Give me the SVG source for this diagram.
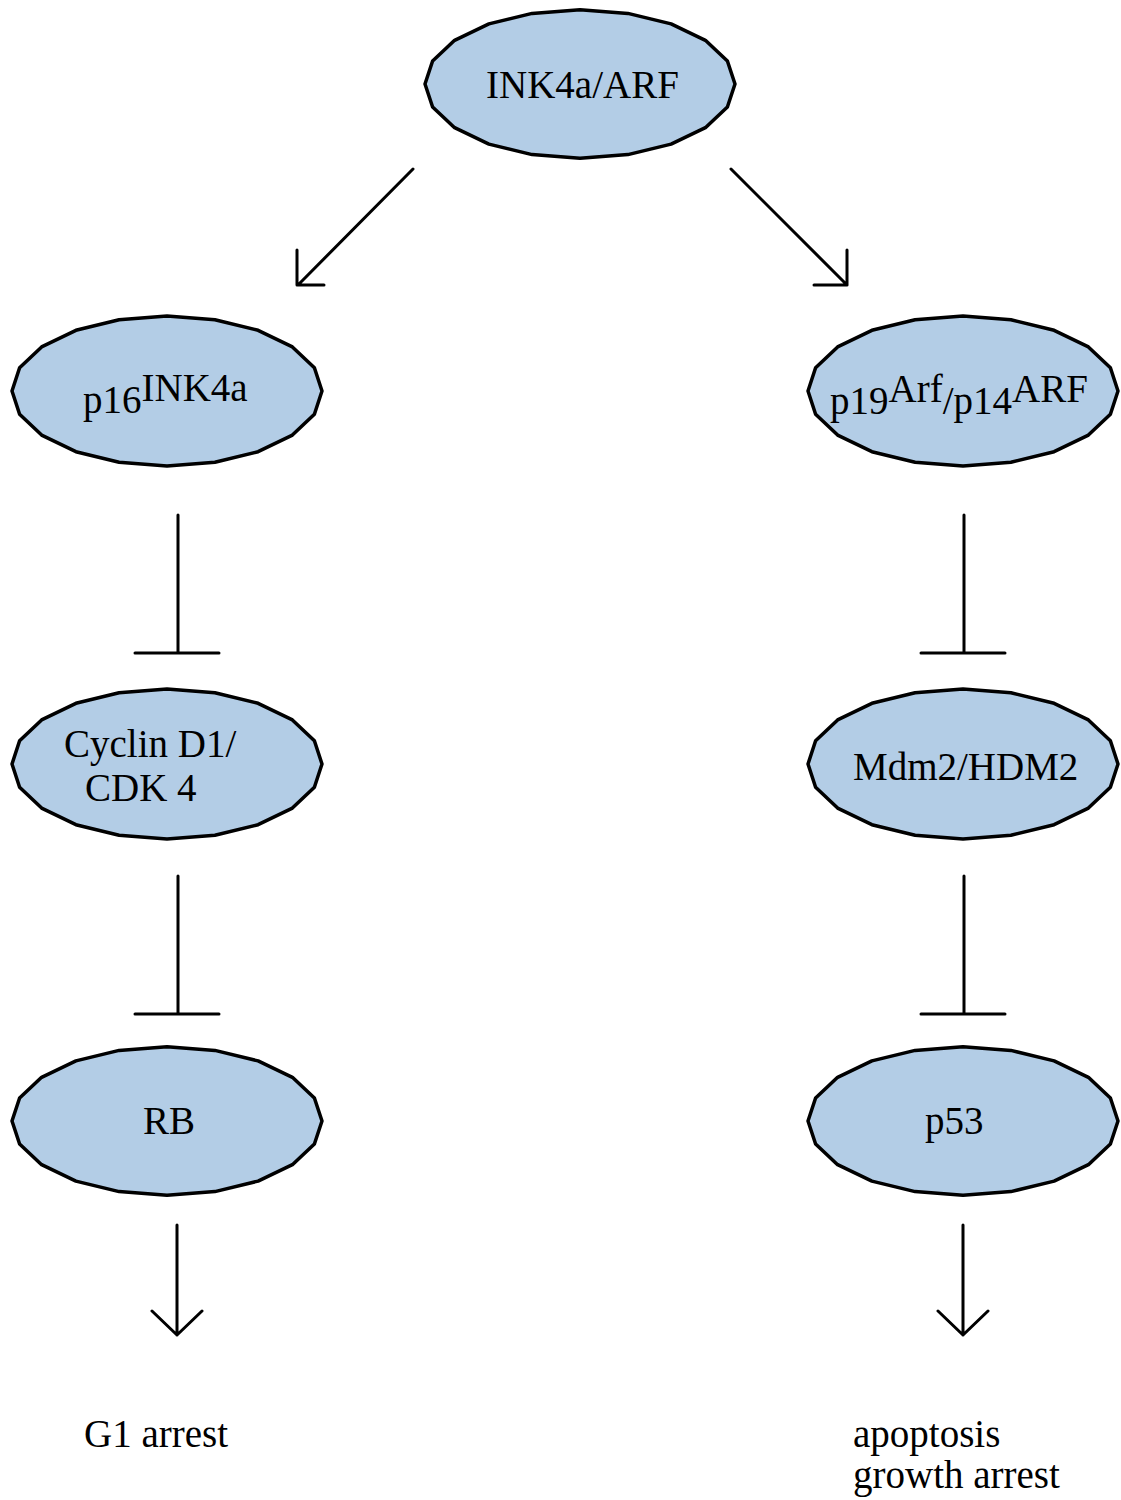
<svg xmlns="http://www.w3.org/2000/svg" xmlns:xlink="http://www.w3.org/1999/xlink" width="1121" height="1500" viewBox="0 0 1121 1500">
<style>
.node{fill:#b3cde6;stroke:#000;stroke-width:3.5;stroke-linejoin:round}
.lbl{font-family:"Liberation Serif","Times New Roman",serif;font-size:39px;fill:#000}
.con{stroke:#000;stroke-width:3;fill:none;stroke-linecap:round;stroke-linejoin:round}
</style>
<defs>
<polygon id="oval" points="155,0 147.4,23.2 125.4,44.1 91.1,60.7 47.9,71.3 0,75 -47.9,71.3 -91.1,60.7 -125.4,44.1 -147.4,23.2 -155,0 -147.4,-23.2 -125.4,-44.1 -91.1,-60.7 -47.9,-71.3 0,-75 47.9,-71.3 91.1,-60.7 125.4,-44.1 147.4,-23.2"/>
</defs>
<rect width="1121" height="1500" fill="#fff"/>
<g id="connectors" class="con">
<path d="M413,169 L298,285 M297,250 L297,285 L324,285"/>
<path d="M731,169 L847,285 M847,250 L847,285 L814,285"/>
<path d="M178,515 L178,653 M135,653 L219,653"/>
<path d="M964,515 L964,653 M921,653 L1005,653"/>
<path d="M178,876 L178,1014 M135,1014 L219,1014"/>
<path d="M964,876 L964,1014 M921,1014 L1005,1014"/>
<path d="M177,1225 L177,1335 M152,1311 L177,1335 L202,1311"/>
<path d="M963,1225 L963,1335 M938,1311 L963,1335 L988,1311"/>
</g>
<g id="ink4a-arf">
<use xlink:href="#oval" class="node" transform="translate(580,84) scale(1,0.99)"/>
<text class="lbl" x="486" y="98">INK4a/ARF</text>
</g>
<g id="p16">
<use xlink:href="#oval" class="node" transform="translate(167,391)"/>
<text class="lbl" x="83" y="413">p16<tspan dy="-12">INK4a</tspan></text>
</g>
<g id="p19-p14">
<use xlink:href="#oval" class="node" transform="translate(963,391)"/>
<text class="lbl" x="830" y="414">p19<tspan dy="-12">Arf</tspan><tspan dy="12">/p14</tspan><tspan dy="-12">ARF</tspan></text>
</g>
<g id="cyclin">
<use xlink:href="#oval" class="node" transform="translate(167,764)"/>
<text class="lbl" x="64" y="757">Cyclin D1/</text>
<text class="lbl" x="85" y="801">CDK 4</text>
</g>
<g id="mdm2">
<use xlink:href="#oval" class="node" transform="translate(963,764)"/>
<text class="lbl" x="853" y="780">Mdm2/HDM2</text>
</g>
<g id="rb">
<use xlink:href="#oval" class="node" transform="translate(167,1121) scale(1,0.99)"/>
<text class="lbl" x="143" y="1134">RB</text>
</g>
<g id="p53">
<use xlink:href="#oval" class="node" transform="translate(963,1121) scale(1,0.99)"/>
<text class="lbl" x="925" y="1134">p53</text>
</g>
<g id="g1-arrest">
<text class="lbl" x="84" y="1447">G1 arrest</text>
</g>
<g id="apoptosis">
<text class="lbl" x="853" y="1447">apoptosis</text>
<text class="lbl" x="853" y="1488">growth arrest</text>
</g>
</svg>
